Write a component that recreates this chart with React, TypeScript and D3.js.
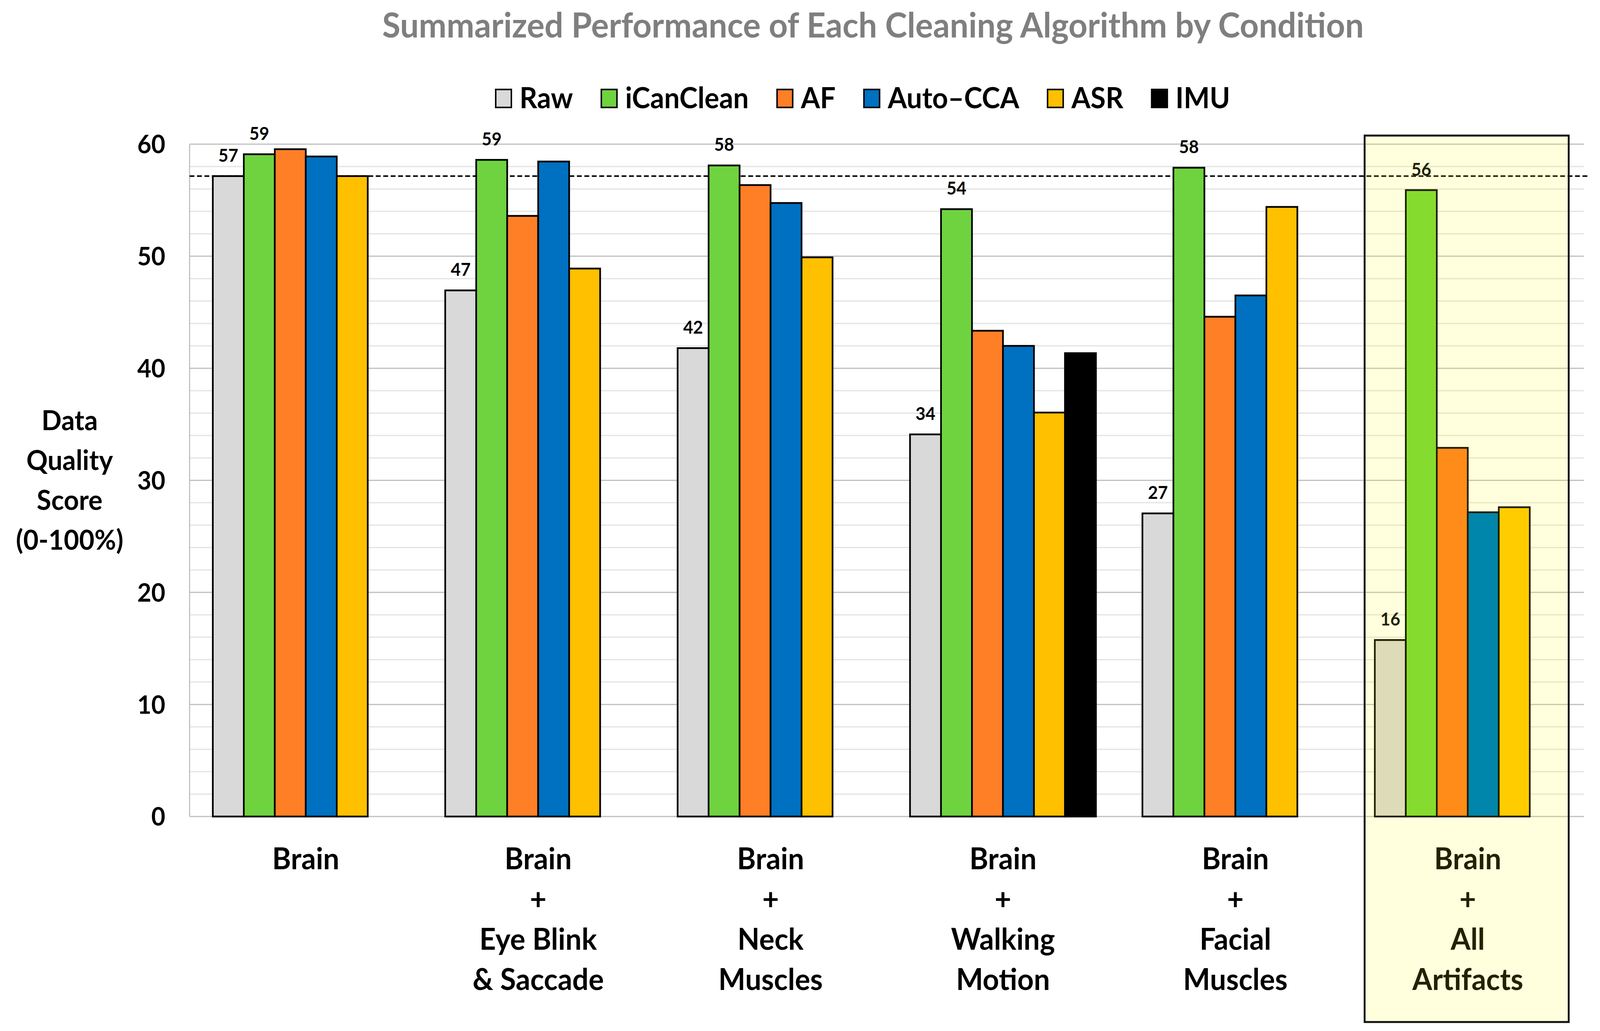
// @ts-nocheck
import { useEffect, useRef } from "react";
import * as d3 from "d3";

const conditions = ["Brain", "Eye Blink", "Neck", "Walking", "Facial", "All"];
const conditionLines = [
  ["Brain"],
  ["Brain", "+", "Eye Blink", "& Saccade"],
  ["Brain", "+", "Neck", "Muscles"],
  ["Brain", "+", "Walking", "Motion"],
  ["Brain", "+", "Facial", "Muscles"],
  ["Brain", "+", "All", "Artifacts"],
];
const series = ["Raw", "iCanClean", "AF", "Auto\u2013CCA", "ASR", "IMU"];

const raw = [57.15, 46.95, 41.8, 34.1, 27.05, 15.75];
const icanclean = [59.1, 58.6, 58.1, 54.2, 57.9, 55.9];
const af = [59.55, 53.6, 56.35, 43.35, 44.6, 32.9];
const autoCCA = [58.9, 58.45, 54.75, 42.0, 46.5, 27.15];
const asr = [57.15, 48.9, 49.9, 36.05, 54.4, 27.6];
const imu = [null, null, null, 41.35, null, null];

const labelled = ["Raw", "iCanClean"]; // only these carry value labels
const highlighted = "All";
const yTicks = [0, 10, 20, 30, 40, 50, 60];
const yTitle = ["Data", "Quality", "Score", "(0-100%)"];

const colors = ["#d9d9d9", "#6fd33f", "#ff7f27", "#0070c0", "#ffc000", "#000000"];
const hiColors = ["#dedcb8", "#86dc2e", "#ff8c18", "#0086aa", "#ffcc00", "#000000"];

const W = 4296;
const H = 2639;
const FONT = "Lato, 'Open Sans', sans-serif";

export default function App() {
  const ref = useRef();

  useEffect(() => {
    document.body.style.margin = "0";
    document.body.style.overflow = "hidden";
    const svg = d3.select(ref.current);
    svg.selectAll("*").remove();

    const margin = { top: 369, right: 43, bottom: 549, left: 509 };
    const x0 = d3
      .scaleBand()
      .domain(conditions)
      .range([margin.left, W - margin.right])
      .padding(0);
    const x1 = d3
      .scaleBand()
      .domain(series)
      .range([0, x0.bandwidth()])
      .paddingInner(0)
      .paddingOuter(0.75);
    const y = d3.scaleLinear().domain([0, 60]).range([H - margin.bottom, margin.top]);

    const values = [raw, icanclean, af, autoCCA, asr, imu];
    const rows = [];
    conditions.forEach((c, ci) => {
      series.forEach((s, si) => {
        const v = values[si][ci];
        if (v != null) rows.push({ c, s, si, v });
      });
    });

    svg.append("rect").attr("width", W).attr("height", H).attr("fill", "white");

    // gridlines
    const minor = d3.range(0, 61, 2).filter((t) => t % 10 !== 0);
    svg
      .append("g")
      .selectAll("line")
      .data(minor)
      .join("line")
      .attr("x1", margin.left)
      .attr("x2", W - margin.right)
      .attr("y1", (d) => y(d))
      .attr("y2", (d) => y(d))
      .attr("stroke", "#e3e3e3")
      .attr("stroke-width", 3);
    svg
      .append("g")
      .selectAll("line")
      .data(yTicks)
      .join("line")
      .attr("x1", margin.left)
      .attr("x2", W - margin.right)
      .attr("y1", (d) => y(d))
      .attr("y2", (d) => y(d))
      .attr("stroke", "#bfbfbf")
      .attr("stroke-width", 3);
    svg
      .append("line")
      .attr("x1", margin.left)
      .attr("x2", margin.left)
      .attr("y1", y(60))
      .attr("y2", y(0))
      .attr("stroke", "#bfbfbf")
      .attr("stroke-width", 3);

    // reference line at the Brain raw level
    svg
      .append("line")
      .attr("x1", margin.left)
      .attr("x2", W - margin.right + 15)
      .attr("y1", y(raw[0]))
      .attr("y2", y(raw[0]))
      .attr("stroke", "#000")
      .attr("stroke-width", 4)
      .attr("stroke-dasharray", "13 7");

    // highlight tint
    const hx = x0(highlighted) + 35;
    const hw = x0.bandwidth() - 76;
    const hy = 347;
    const hh = 2616 - 347;
    svg
      .append("rect")
      .attr("x", hx)
      .attr("y", hy)
      .attr("width", hw)
      .attr("height", hh)
      .attr("fill", "#ffff00")
      .attr("fill-opacity", 0.13);

    // bars
    svg
      .append("g")
      .selectAll("rect")
      .data(rows)
      .join("rect")
      .attr("x", (d) => x0(d.c) + x1(d.s))
      .attr("y", (d) => y(d.v))
      .attr("width", x1.bandwidth())
      .attr("height", (d) => y(0) - y(d.v))
      .attr("fill", (d) => (d.c === highlighted ? hiColors[d.si] : colors[d.si]))
      .attr("stroke", (d) => (d.c === highlighted ? "#1f1f00" : "#000"))
      .attr("stroke-width", 4.5);

    // value labels
    svg
      .append("g")
      .selectAll("text")
      .data(rows.filter((d) => labelled.includes(d.s)))
      .join("text")
      .attr("x", (d) => x0(d.c) + x1(d.s) + x1.bandwidth() / 2)
      .attr("y", (d) => y(d.v) - 37)
      .attr("text-anchor", "middle")
      .attr("font-family", FONT)
      .attr("font-weight", 700)
      .attr("font-size", 46)
      .attr("fill", (d) => (d.c === highlighted ? "#222200" : "#000"))
      .text((d) => Math.round(d.v));

    // highlight border
    svg
      .append("rect")
      .attr("x", hx)
      .attr("y", hy)
      .attr("width", hw)
      .attr("height", hh)
      .attr("fill", "none")
      .attr("stroke", "#111")
      .attr("stroke-width", 5);

    // y tick labels
    svg
      .append("g")
      .selectAll("text")
      .data(yTicks)
      .join("text")
      .attr("x", 444)
      .attr("y", (d) => y(d))
      .attr("dy", "0.36em")
      .attr("text-anchor", "end")
      .attr("font-family", FONT)
      .attr("font-weight", 700)
      .attr("font-size", 65)
      .attr("fill", "#000")
      .text((d) => d);

    // y title
    const yc = (y(0) + y(60)) / 2;
    svg
      .append("g")
      .selectAll("text")
      .data(yTitle)
      .join("text")
      .attr("x", 187)
      .attr("y", (d, i) => yc + (i - 1.5) * 102 + 25)
      .attr("text-anchor", "middle")
      .attr("font-family", FONT)
      .attr("font-weight", 700)
      .attr("font-size", 71)
      .attr("fill", "#000")
      .text((d) => d);

    // x labels
    const xg = svg
      .append("g")
      .selectAll("g")
      .data(conditions)
      .join("g")
      .attr("transform", (d) => `translate(${x0(d) + x0.bandwidth() / 2},0)`);
    xg.selectAll("text")
      .data((d, i) => conditionLines[i].map((t) => ({ t, c: d })))
      .join("text")
      .attr("y", (d, i) => 2225 + i * 103)
      .attr("text-anchor", "middle")
      .attr("font-family", FONT)
      .attr("font-weight", 700)
      .attr("font-size", 77)
      .attr("fill", (d) => (d.c === highlighted ? "#222200" : "#000"))
      .text((d) => d.t);

    // title
    svg
      .append("text")
      .attr("x", 2344)
      .attr("y", 96)
      .attr("text-anchor", "middle")
      .attr("font-family", FONT)
      .attr("font-weight", 700)
      .attr("font-size", 89)
      .attr("fill", "#7f7f7f")
      .text("Summarized Performance of Each Cleaning Algorithm by Condition");

    // legend
    const lg = svg.append("g");
    const sw = 46;
    let cx = 0;
    series.forEach((s, i) => {
      const item = lg.append("g").attr("transform", `translate(${cx},0)`);
      item
        .append("rect")
        .attr("x", 2)
        .attr("y", 229)
        .attr("width", sw - 4)
        .attr("height", 46)
        .attr("fill", colors[i])
        .attr("stroke", "#000")
        .attr("stroke-width", 4);
      const t = item
        .append("text")
        .attr("x", sw + 20)
        .attr("y", 277)
        .attr("font-family", FONT)
        .attr("font-weight", 700)
        .attr("font-size", 74)
        .attr("fill", "#000")
        .text(s);
      cx += sw + 20 + t.node().getComputedTextLength() + 74;
    });
    const total = cx - 74;
    lg.attr("transform", `translate(${2316 - total / 2},0)`);
  }, []);

  return (
    <svg
      ref={ref}
      viewBox={`0 0 ${W} ${H}`}
      preserveAspectRatio="none"
      style={{
        position: "absolute",
        left: 0,
        top: 0,
        width: "100vw",
        height: "100vh",
        display: "block",
      }}
    />
  );
}
